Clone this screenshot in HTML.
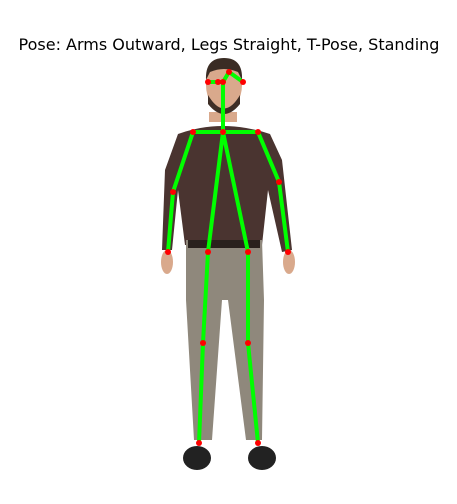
<!DOCTYPE html>
<html><head><meta charset="utf-8"><style>
body{margin:0;background:#fff;}
svg{display:block;font-family:"DejaVu Sans","Liberation Sans",sans-serif;}
</style></head><body>
<svg width="457" height="504" viewBox="0 0 457 504">
<text x="229" y="50" text-anchor="middle" font-size="16" fill="#000">Pose: Arms Outward, Legs Straight, T-Pose, Standing</text>
<g>
  <path d="M209,122 L237,122 L237,112 L209,112 Z" fill="#d9a98c"/>
  <ellipse cx="224" cy="85" rx="18" ry="26" fill="#d9a98c"/>
  <path d="M206,80 Q205,58 224,58 Q243,58 242,80 L238,72 Q224,66 210,72 Z" fill="#3a2c24"/>
  <path d="M208,95 Q224,122 240,95 L240,104 Q224,124 208,104 Z" fill="#3e2e26"/>
  <path d="M178,134 Q222,118 270,134 L282,160 L292,250 L282,252 L268,190 L262,245 L185,245 L178,190 L172,250 L162,250 L165,170 Z" fill="#4a3430"/>
  <path d="M186,240 L262,240 L264,300 L262,440 L246,440 L228,300 L222,300 L212,440 L194,440 L186,300 Z" fill="#8f887c"/>
  <rect x="188" y="240" width="72" height="8" fill="#2a211d"/>
  <ellipse cx="167" cy="262" rx="6" ry="12" fill="#d9a98c"/>
  <ellipse cx="289" cy="262" rx="6" ry="12" fill="#d9a98c"/>
  <ellipse cx="197" cy="458" rx="14" ry="12" fill="#222"/>
  <ellipse cx="262" cy="458" rx="14" ry="12" fill="#222"/>
</g>
<g stroke="#00ff00" stroke-width="4" stroke-linecap="round" fill="none">
  <polyline points="208,82 223,82"/>
  <polyline points="223,132 223,82 229,72 243,82"/>
  <polyline points="193,132 258,132"/>
  <polyline points="193,132 173,192 168,252"/>
  <polyline points="258,132 279,182 288,252"/>
  <polyline points="208,252 223,132 248,252"/>
  <polyline points="208,252 203,343 199,443"/>
  <polyline points="248,252 248,343 258,443"/>
</g>
<g fill="#ff0000">
  <circle cx="229" cy="72" r="3"/><circle cx="218" cy="82" r="3"/><circle cx="223" cy="82" r="3"/>
  <circle cx="208" cy="82" r="3"/><circle cx="243" cy="82" r="3"/><circle cx="223" cy="132" r="3"/>
  <circle cx="193" cy="132" r="3"/><circle cx="258" cy="132" r="3"/><circle cx="173" cy="192" r="3"/>
  <circle cx="279" cy="182" r="3"/><circle cx="168" cy="252" r="3"/><circle cx="288" cy="252" r="3"/>
  <circle cx="208" cy="252" r="3"/><circle cx="248" cy="252" r="3"/><circle cx="203" cy="343" r="3"/>
  <circle cx="248" cy="343" r="3"/><circle cx="199" cy="443" r="3"/><circle cx="258" cy="443" r="3"/>
</g>
</svg>
</body></html>
